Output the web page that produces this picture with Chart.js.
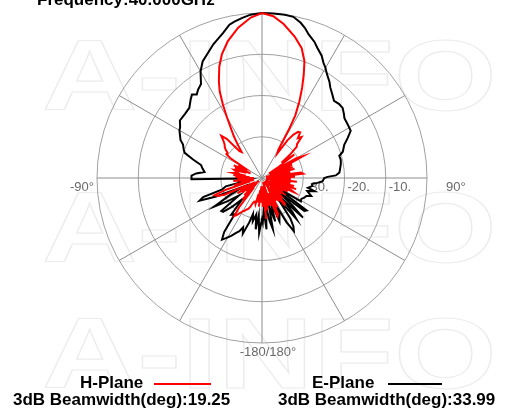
<!DOCTYPE html>
<html>
<head>
<meta charset="utf-8">
<script src="https://cdn.jsdelivr.net/npm/chart.js@4.4.1/dist/chart.umd.min.js"></script>
<style>
html,body{margin:0;padding:0;background:#fff;overflow:hidden}
#wrap{width:510px;height:416px;position:relative}
</style>
</head>
<body>
<div id="wrap"><canvas id="c" width="510" height="416"></canvas></div>
<script>
// ---- data (angle in degrees, 0 = top, clockwise; value in dB) ----
const titleText = 'Frequency:40.000GHz';
const ringValues = [-30, -20, -10];
const ringLabels = ['-30.', '-20.', '-10.'];
const angleLabelTexts = ['-90°', '90°', '-180/180°'];
const seriesNames = ['H-Plane', 'E-Plane'];
const beamwidths = ['3dB Beamwidth(deg):19.25', '3dB Beamwidth(deg):33.99'];

const hAngles = [-180,-178,-176,-174,-172,-170,-168,-166,-164,-162,-160,-158,-156,-154,-152,-150,-148,-146,-144,-142,-140,-138,-136,-134,-132,-130,-128,-126,-124,-122,-120,-118,-116,-114,-112,-110,-108,-106,-104,-102,-100,-98,-96,-94,-92,-90,-88,-86,-84,-82,-80,-78,-76,-74,-72,-70,-68,-66,-64,-62,-60,-58,-56,-54,-52,-50,-48,-46,-44,-42,-40,-38,-36,-34,-32,-30,-28,-26,-24,-21,-18,-14,-9,-4,0,4,8,13,17,20,22,24,26,28,29,30,32,34,36,38,40,42,44,46,48,50,52,54,56,58,60,62,64,66,68,70,72,74,76,78,80,82,84,86,88,90,92,94,96,98,100,102,104,106,108,110,112,114,116,118,120,122,124,126,128,130,132,134,136,138,140,142,144,146,148,150,152,154,156,158,160,162,164,166,168,170,172,174,176,178];
const hValues = [-38,-34,-38,-33,-37,-34,-36,-33.5,-34,-34,-33.6,-32.5,-31.8,-31.5,-31,-30.7,-30,-29.2,-28.6,-31,-37,-33,-38,-34,-39,-35,-38,-34,-37,-33,-38,-34,-36,-30,-28.4,-27.8,-31,-37,-33,-38,-34.8,-38,-33,-37,-34,-38,-33.5,-37,-33,-36,-33,-34,-33.5,-33,-36,-33,-37,-32.5,-36,-33.5,-35,-31,-29.6,-29.7,-28.8,-28.2,-27.8,-27,-25.8,-27.2,-31.5,-32,-30,-27.8,-25.8,-23,-19.8,-16.6,-14.3,-11.1,-8.5,-5.8,-3.1,-1,0,-0.7,-2.3,-4.8,-7.1,-9.9,-13,-16.1,-19.3,-22.8,-26.5,-32,-33,-29,-27,-25.8,-25.6,-27,-26.2,-28.2,-28.7,-31,-34,-30.3,-35,-38,-30.5,-28.8,-36,-32,-38,-32.1,-37,-31.8,-39,-33,-38,-30.5,-30,-37,-32,-39,-33,-37.5,-31.5,-38,-33,-39,-32,-36,-31.3,-38,-32.5,-31.5,-37,-33,-39,-34,-37,-33,-39,-34,-38,-33,-37,-31.8,-31.6,-37,-33,-39,-33.5,-37,-32,-36,-30.5,-30,-36,-33,-39,-33,-37,-32,-38,-30,-37,-33];

const eAngles = [-180,-177,-175,-173,-171,-168,-166,-164,-161,-159,-157,-155,-152,-149,-147,-145,-143,-140,-137,-134,-131,-129,-127,-124,-121,-118,-115,-112,-110,-108,-106,-103,-100,-97,-94,-92,-91,-88,-86,-84,-81,-78,-75,-72,-70,-67,-65,-62,-60,-58,-55,-50,-46,-42,-40,-38,-36,-33,-30,-27,-24,-20,-18,-15,-12,-10,-7,-4,0,4,8,11,14,16,18,21,23,26,28,30,32,35,37,40,43,46,49,52,54,58,62,65,68,72,74,77,80,84,86,88,89,90,93,95,97,99,102,104,106,108,110,112,115,118,121,123,126,128,130,132,134,136,138,140,142,145,147,149,151,153,155,158,160,163,166,168,170,172,175,177,179];
const eValues = [-30,-26.7,-31,-27.5,-31,-29.3,-31,-28.8,-25.7,-27.2,-26,-25.4,-24.1,-23,-22.2,-24,-29,-28.4,-33,-30,-27.5,-27.3,-33,-30,-26.6,-31,-35,-28,-23.9,-25,-30,-31,-36,-34,-37,-36,-22.9,-22.9,-24,-26,-25.4,-24.9,-22.7,-20.3,-19.8,-19.2,-18.2,-17.45,-16.9,-16.6,-15.7,-15.7,-15.5,-14.2,-13.6,-14.3,-13.6,-12.85,-10.2,-8.3,-7.2,-5.5,-4.8,-3.6,-2,-1.5,-0.9,-0.3,0,-0.05,-0.05,-0.2,-1.23,-2.2,-3.4,-4.6,-5.7,-7,-8.3,-9.2,-10.3,-11.5,-12.5,-13.5,-14.4,-14.1,-14.1,-14.8,-15.3,-15.5,-15.65,-17.1,-18.5,-19.4,-20.5,-20.4,-20.6,-21,-21.2,-22.1,-24.1,-24.9,-25.3,-26.5,-27.8,-27.6,-28.6,-26.9,-28.6,-28,-27.3,-28.4,-28.7,-29.2,-29,-36,-26.6,-27,-35,-30,-26.2,-33,-29,-27,-34,-28,-26,-25,-27.7,-33,-30,-28.7,-34,-29,-33,-27.3,-29.4,-33,-27.5,-32,-29.2];

// categories: one per degree
const angleCategories = Array.from({length: 360}, (_, i) => i);

function toSeries(angles, values) {
  const arr = new Array(360).fill(null);
  angles.forEach((a, i) => { arr[((a % 360) + 360) % 360] = values[i]; });
  return arr;
}

function drawWatermark(ctx) {
  ctx.save();
  ctx.strokeStyle = '#ececec';
  ctx.lineWidth = 1.1;
  ctx.font = 'bold 100px "Liberation Sans"';
  ctx.textBaseline = 'alphabetic';
  [110, 262, 388].forEach(y => {
    ctx.save();
    ctx.translate(42, y);
    ctx.scale(1.32, 1);
    ctx.strokeText('A-INFO', 0, 0);
    ctx.restore();
  });
  ctx.restore();
}

const decor = {
  id: 'decor',
  beforeDraw(chart) { drawWatermark(chart.ctx); },
  beforeDatasetsDraw(chart) {
    const s = chart.scales.r, ctx = chart.ctx;
    const cx = s.xCenter, cy = s.yCenter, R = s.drawingArea;
    ctx.save();
    ctx.font = '13px "Liberation Sans"';
    ctx.fillStyle = '#6a6a6a';
    ctx.textBaseline = 'top';
    ctx.textAlign = 'left';
    ringValues.forEach((v, i) => {
      const d = s.getDistanceFromCenterForValue(v);
      ctx.fillText(ringLabels[i], cx + d + 3, cy + 3);
    });
    ctx.textAlign = 'right';
    ctx.fillText(angleLabelTexts[0], cx - R - 3, cy + 3);
    ctx.textAlign = 'left';
    ctx.fillText(angleLabelTexts[1], cx + R + 19, cy + 3);
    ctx.textAlign = 'center';
    ctx.fillText(angleLabelTexts[2], cx + 6, cy + R + 3);
    ctx.restore();
  },
  afterDraw(chart) {
    const ctx = chart.ctx;
    ctx.save();
    ctx.fillStyle = '#000';
    ctx.font = 'bold 17px "Liberation Sans"';
    ctx.textBaseline = 'alphabetic';
    ctx.textAlign = 'left';
    ctx.fillText(titleText, 37, 5);
    ctx.textBaseline = 'middle';
    ctx.fillText(seriesNames[0], 80, 383);
    ctx.fillText(seriesNames[1], 312, 383);
    ctx.fillText(beamwidths[0], 13, 400);
    ctx.fillText(beamwidths[1], 278, 400);
    ctx.lineWidth = 2;
    ctx.strokeStyle = '#ff0000';
    ctx.beginPath(); ctx.moveTo(154, 384); ctx.lineTo(211, 384); ctx.stroke();
    ctx.strokeStyle = '#000000';
    ctx.beginPath(); ctx.moveTo(388, 384); ctx.lineTo(442, 384); ctx.stroke();
    ctx.restore();
  }
};

new Chart(document.getElementById('c'), {
  type: 'radar',
  data: {
    labels: angleCategories,
    datasets: [
      { label: seriesNames[0], data: toSeries(hAngles, hValues), borderColor: '#ff0000', borderWidth: 2, fill: false, spanGaps: true, pointRadius: 0 },
      { label: seriesNames[1], data: toSeries(eAngles, eValues), borderColor: '#000000', borderWidth: 2, fill: false, spanGaps: true, pointRadius: 0 }
    ]
  },
  options: {
    responsive: false,
    animation: false,
    layout: { padding: { left: 97, right: 82, top: 13, bottom: 72 } },
    elements: { line: { tension: 0 }, point: { radius: 0, hitRadius: 0, hoverRadius: 0 } },
    plugins: { legend: { display: false }, tooltip: { enabled: false } },
    scales: {
      r: {
        min: -40, max: 0, startAngle: 0,
        ticks: { display: false, stepSize: 10 },
        grid: { circular: true, color: '#a0a0a0', lineWidth: 1 },
        angleLines: {
          display: true,
          color: (c) => (c.index % 30 === 0 ? '#8c8c8c' : 'rgba(0,0,0,0)'),
          lineWidth: (c) => (c.index % 30 === 0 ? 1 : 0)
        },
        pointLabels: { display: false }
      }
    }
  },
  plugins: [decor]
});
</script>
</body>
</html>
